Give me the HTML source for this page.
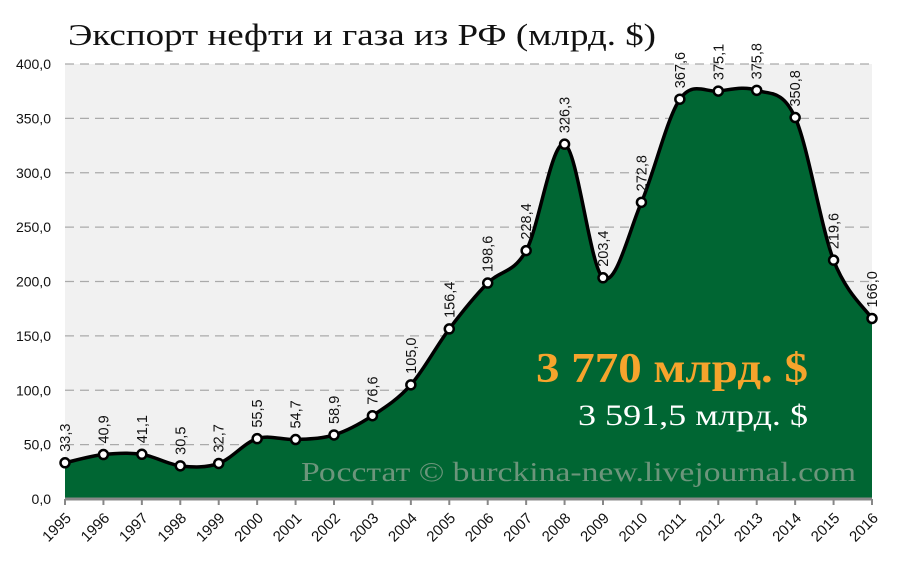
<!DOCTYPE html>
<html><head><meta charset="utf-8"><style>
html,body{margin:0;padding:0;background:#fff;}
svg{display:block;}
</style></head><body>
<svg id="c" width="900" height="564" xmlns="http://www.w3.org/2000/svg">
<text x="68" y="45" font-family="Liberation Serif, serif" font-size="31" fill="#111" textLength="588" lengthAdjust="spacingAndGlyphs">Экспорт нефти и газа из РФ (млрд. $)</text>
<rect x="65" y="64" width="807" height="435" fill="#f1f1f1"/>
<g id="grid"></g>
<path id="area" fill="#006633"/>
<line x1="65" y1="499" x2="872" y2="499" stroke="#888" stroke-width="3"/>
<g id="ticks"></g>
<text x="301" y="481" font-family="Liberation Serif, serif" font-size="27" fill="#7f9e88" opacity="0.85" textLength="555" lengthAdjust="spacingAndGlyphs">Росстат © burckina-new.livejournal.com</text>
<path id="line" fill="none" stroke="#000" stroke-width="3.5"/>
<g id="pts"></g>
<text x="808" y="382" text-anchor="end" font-family="Liberation Serif, serif" font-weight="bold" font-size="42" fill="#f6a42c" textLength="272" lengthAdjust="spacingAndGlyphs">3 770 млрд. $</text>
<text x="808" y="425" text-anchor="end" font-family="Liberation Serif, serif" font-size="30" fill="#fff" textLength="230" lengthAdjust="spacingAndGlyphs">3 591,5 млрд. $</text>
</svg>
<script>
var v=[33.3,40.9,41.1,30.5,32.7,55.5,54.7,58.9,76.6,105.0,156.4,198.6,228.4,326.3,203.4,272.8,367.6,375.1,375.8,350.8,219.6,166.0];
var NS="http://www.w3.org/2000/svg";
function X(i){return 65+i*807/21;}function Y(a){return 499-a*435/400;}
function el(t,a,p,txt){var e=document.createElementNS(NS,t);for(var k in a)e.setAttribute(k,a[k]);if(txt!==undefined)e.textContent=txt;p.appendChild(e);return e;}
var g=document.getElementById('grid');
for(var k=0;k<=8;k++){var y=Y(k*50);
 if(k>0)el('line',{x1:65,x2:872,y1:y,y2:y,stroke:'#aaa','stroke-width':1.2,'stroke-dasharray':'9,6'},g);
 el('text',{x:51,y:y+5,'text-anchor':'end','font-family':'Liberation Sans, sans-serif','font-size':14,fill:'#111'},g,(k*50)+',0');}
var tk=document.getElementById('ticks');
var P=v.map(function(a,i){return [X(i),Y(a)];});
for(var i=0;i<v.length;i++){
 el('line',{x1:X(i),x2:X(i),y1:499,y2:505,stroke:'#888','stroke-width':2},tk);
 el('text',{transform:'translate('+(X(i)+7)+',519) rotate(-45)','text-anchor':'end','font-family':'Liberation Sans, sans-serif','font-size':15,fill:'#111'},tk,String(1995+i));
}
var d='M'+P[0][0]+','+P[0][1];
for(var i=0;i<P.length-1;i++){var p0=P[i-1]||P[i],p1=P[i],p2=P[i+1],p3=P[i+2]||P[i+1];
 var c1=[p1[0]+(p2[0]-p0[0])/6,p1[1]+(p2[1]-p0[1])/6],c2=[p2[0]-(p3[0]-p1[0])/6,p2[1]-(p3[1]-p1[1])/6];
 d+=' C'+c1+' '+c2+' '+p2;}
document.getElementById('line').setAttribute('d',d);
document.getElementById('area').setAttribute('d',d+' L872,499 L65,499 Z');
var pt=document.getElementById('pts');
for(var i=0;i<P.length;i++){
 el('circle',{cx:P[i][0],cy:P[i][1],r:4.5,fill:'#fff',stroke:'#000','stroke-width':2.5},pt);
 el('text',{transform:'translate('+(P[i][0]+5)+','+(P[i][1]-11)+') rotate(-90)','font-family':'Liberation Sans, sans-serif','font-size':14.5,fill:'#111'},pt,v[i].toFixed(1).replace('.',','));
}
</script>
</body></html>
